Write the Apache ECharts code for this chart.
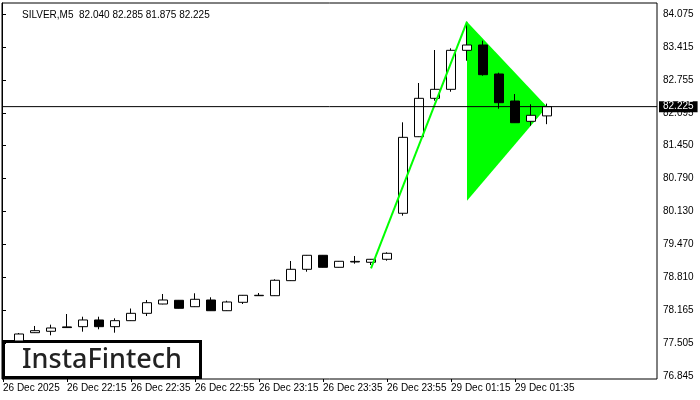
<!DOCTYPE html>
<html><head><meta charset="utf-8">
<script src="https://cdn.jsdelivr.net/npm/echarts@6/dist/echarts.min.js"></script>
<style>html,body{margin:0;padding:0;background:#fff}#c{width:700px;height:400px}</style>
</head><body><div id="c"></div>
<script>
const symbolName = 'SILVER,M5';
// time slots (M5), first slot and trailing slots have no candle
const categories = ['21:55','22:00','22:05','22:10','22:15','22:20','22:25','22:30','22:35','22:40','22:45','22:50','22:55','23:00','23:05','23:10','23:15','23:20','23:25','23:30','23:35','23:40','23:45','23:50','23:55',
  '01:00','01:05','01:10','01:15','01:20','01:25','01:30','01:35','01:40','01:45',
  '01:50','01:55','02:00','02:05','02:10','02:15'];
const xTickCats  = ['21:55','22:15','22:35','22:55','23:15','23:35','23:55','01:15','01:35'];
const xTickTexts = ['26 Dec 2025','26 Dec 22:15','26 Dec 22:35','26 Dec 22:55','26 Dec 23:15','26 Dec 23:35','26 Dec 23:55','29 Dec 01:15','29 Dec 01:35'];
// candles from 22:00 to 01:45
const opens  = [77.544,77.710,77.738,77.826,77.830,77.964,77.830,77.950,78.097,78.283,78.357,78.229,78.363,78.149,78.317,78.449,78.449,78.749,78.976,79.256,79.016,79.122,79.116,79.176,80.095,81.624,82.391,82.571,83.350,83.456,82.877,82.337,81.932,82.040];
const highs  = [77.704,77.844,77.870,78.083,78.029,78.029,77.997,78.193,78.363,78.483,78.363,78.497,78.417,78.349,78.463,78.503,78.777,79.142,79.262,79.262,79.142,79.242,79.182,79.316,81.912,82.697,83.356,83.390,83.921,83.542,82.903,82.477,82.272,82.285];
const lows   = [77.504,77.704,77.658,77.810,77.730,77.778,77.710,77.944,78.043,78.277,78.193,78.223,78.143,78.143,78.283,78.443,78.443,78.743,78.928,79.012,79.012,79.088,79.062,79.148,80.047,81.618,82.343,82.523,83.142,82.843,82.184,81.898,81.844,81.875];
const closes = [77.684,77.750,77.804,77.812,77.964,77.830,77.950,78.097,78.309,78.363,78.197,78.377,78.149,78.323,78.457,78.457,78.757,78.976,79.256,79.016,79.136,79.134,79.176,79.296,81.612,82.391,82.571,83.350,83.456,82.863,82.304,81.904,82.052,82.225];
const firstCandleSlot = 1;
// y axis tick values
const yTickValues = [84.075,83.415,82.755,82.095,81.450,80.790,80.130,79.470,78.810,78.165,77.505,76.845];
const yMin = 76.785, yMax = 84.295;
// pennant pattern (slot index, price)
const poleX = [22.94, 29];
const poleY = [78.996, 83.921];
const triX = [29, 33.78, 29];
const triY = [83.921, 82.225, 80.346];

const last = opens.length - 1;
const candleData = categories.map((c, i) => {
  const k = i - firstCandleSlot;
  if (k < 0 || k > last) return '-';
  return [opens[k], closes[k], lows[k], highs[k]];
});
const lastClose = closes[last];
const font = 'Liberation Sans, Arial, sans-serif';
const tickShown = (idx) => xTickCats.indexOf(categories[idx]) >= 0;

const chart = echarts.init(document.getElementById('c'), null, {renderer: 'canvas'});
chart.setOption({
  animation: false,
  backgroundColor: '#fff',
  title: {
    text: symbolName + '  ' + [opens[last], highs[last], lows[last], closes[last]].map(v => v.toFixed(3)).join(' '),
    left: 17, top: 5,
    textStyle: {fontSize: 10, fontWeight: 'normal', color: '#000', fontFamily: font}
  },
  grid: [
    {left: 2, top: 3, right: 43, bottom: 21, show: true, borderColor: '#000', borderWidth: 1, backgroundColor: 'transparent', outerBoundsMode: 'none'},
    {left: 3, top: 3, width: 640, bottom: 21, show: false, outerBoundsMode: 'none'}
  ],
  xAxis: [
    {gridIndex: 0, type: 'value', min: 0, max: 1, show: false},
    {gridIndex: 1, type: 'category', data: categories, boundaryGap: false,
     axisLine: {show: false},
     axisTick: {show: true, interval: tickShown, length: 3, lineStyle: {color: '#000'}},
     axisLabel: {interval: tickShown, align: 'left', margin: 4, fontSize: 10, color: '#000', fontFamily: font,
       formatter: (v) => { const j = xTickCats.indexOf(v); return j >= 0 ? xTickTexts[j] : ''; }},
     splitLine: {show: false}}
  ],
  yAxis: [
    {gridIndex: 0, type: 'value', position: 'right', min: yMin, max: yMax, scale: true,
     axisLine: {show: true, lineStyle: {color: '#000'}},
     axisTick: {show: true, length: 4, customValues: yTickValues, lineStyle: {color: '#000'}},
     axisLabel: {customValues: yTickValues, margin: 6, fontSize: 10, color: '#000', fontFamily: font,
       formatter: (v) => Number(v).toFixed(3)},
     splitLine: {show: false}},
    {gridIndex: 1, type: 'value', min: yMin, max: yMax, scale: true, show: false, splitLine: {show: false}}
  ],
  series: [
    {type: 'custom', xAxisIndex: 1, yAxisIndex: 1, z: 1, silent: true,
     data: triX.map((x, i) => [x, triY[i]]),
     renderItem: (params, api) => {
       if (params.dataIndex !== 0) return null;
       const pts = triX.map((x, i) => api.coord([x, triY[i]]));
       return {type: 'polygon', shape: {points: pts}, style: {fill: '#00ff00', stroke: null}};
     }},
    {type: 'candlestick', xAxisIndex: 1, yAxisIndex: 1, z: 2, barWidth: 9,
     data: candleData,
     itemStyle: {color: '#ffffff', color0: '#000000', borderColor: '#000000', borderColor0: '#000000', borderWidth: 1}},
    {type: 'custom', xAxisIndex: 1, yAxisIndex: 1, z: 3, silent: true,
     data: poleX.map((x, i) => [x, poleY[i]]),
     renderItem: (params, api) => {
       if (params.dataIndex !== 0) return null;
       const pts = poleX.map((x, i) => api.coord([x, poleY[i]]));
       return {type: 'polyline', shape: {points: pts}, style: {stroke: '#00ff00', lineWidth: 2, fill: null}};
     }},
    {type: 'line', xAxisIndex: 0, yAxisIndex: 0, z: 10, symbol: 'none', silent: true,
     data: [[0, lastClose], [1, lastClose]],
     lineStyle: {color: '#000', width: 1},
     endLabel: {show: true, formatter: () => lastClose.toFixed(3), color: '#fff', backgroundColor: '#000',
       fontSize: 10, fontFamily: font, padding: [1, 4, 0, 4], distance: 2}}
  ],
  graphic: [
    {type: 'group', z: 100, children: [
      {type: 'rect', shape: {x: 3.5, y: 341.5, width: 197, height: 36}, style: {fill: '#fff', stroke: '#000', lineWidth: 3}},
      {type: 'text', x: 102, y: 360, style: {text: 'InstaFintech', font: '500 27px "Noto Sans", sans-serif', fill: '#222', align: 'center', verticalAlign: 'middle'}}
    ]}
  ]
});
</script></body></html>
